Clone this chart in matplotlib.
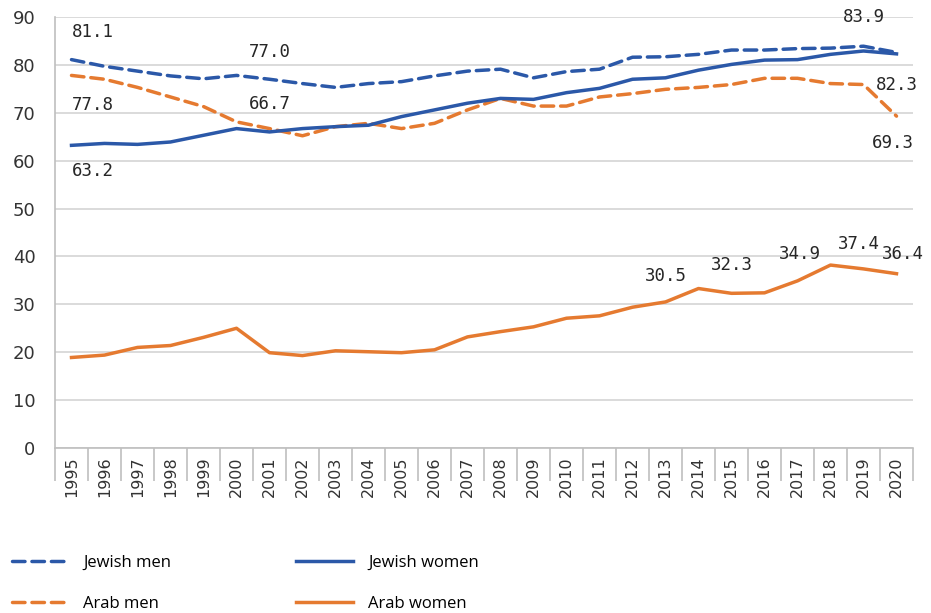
import numpy as np
import matplotlib
matplotlib.use("Agg")
import matplotlib.pyplot as plt

plt.rcParams['lines.scale_dashes'] = False

years = list(range(1995, 2021))
jewish_men = [81.1, 79.7, 78.7, 77.7, 77.1, 77.8, 77.0, 76.1, 75.3, 76.1, 76.5, 77.7, 78.7,
              79.1, 77.3, 78.6, 79.1, 81.6, 81.7, 82.2, 83.1, 83.1, 83.4, 83.5, 83.9, 82.6]
jewish_women = [63.2, 63.6, 63.4, 63.9, 65.3, 66.7, 66.0, 66.7, 67.1, 67.4, 69.2, 70.6, 72.0,
                73.0, 72.8, 74.2, 75.1, 77.0, 77.3, 78.9, 80.1, 81.0, 81.1, 82.2, 82.9, 82.3]
arab_men = [77.8, 77.0, 75.3, 73.3, 71.3, 68.1, 66.7, 65.2, 67.1, 67.8, 66.7, 67.8, 70.6,
            73.0, 71.4, 71.4, 73.3, 74.0, 74.9, 75.3, 75.9, 77.2, 77.2, 76.1, 75.9, 69.3]
arab_women = [18.9, 19.4, 21.0, 21.4, 23.1, 25.0, 19.9, 19.3, 20.3, 20.1, 19.9, 20.5, 23.2,
              24.3, 25.3, 27.1, 27.6, 29.4, 30.5, 33.3, 32.3, 32.4, 34.9, 38.2, 37.4, 36.4]

# which points get a value label: (series, year, offset in pixels)
labelled = [
    ("jm", 1995, (21, 28)), ("am", 1995, (21, -30)), ("jw", 1995, (21, -26)),
    ("jm", 2001, (0, 27)), ("am", 2001, (0, 25)),
    ("jm", 2019, (0, 29)), ("jw", 2020, (0, -31)), ("am", 2020, (-4, -27)),
    ("aw", 2013, (0, 26)), ("aw", 2015, (0, 28)), ("aw", 2017, (2, 27)),
    ("aw", 2019, (-5, 25)), ("aw", 2020, (6, 20)),
]

blue = '#2B58A8'
orange = '#E57A30'

fig = plt.figure(figsize=(9.31, 6.13), dpi=100)
ax = fig.add_axes([55/931, 1-448/613, (913-55)/931, (448-17)/613])

x = np.arange(len(years))
series = {
    "jm": ax.plot(x, jewish_men, color=blue, lw=2.5, dashes=(9, 5), dash_capstyle='round', label='Jewish men')[0],
    "am": ax.plot(x, arab_men, color=orange, lw=2.5, dashes=(9, 5), dash_capstyle='round', label='Arab men')[0],
    "jw": ax.plot(x, jewish_women, color=blue, lw=2.5, label='Jewish women')[0],
    "aw": ax.plot(x, arab_women, color=orange, lw=2.5, label='Arab women')[0],
}
data = {"jm": jewish_men, "am": arab_men, "jw": jewish_women, "aw": arab_women}

for key, yr, off in labelled:
    i = years.index(yr)
    v = data[key][i]
    ax.annotate("%.1f" % v, (i, v), xytext=off, textcoords='offset pixels',
                ha='center', va='center', fontsize=12.5, family='DejaVu Sans Mono',
                color='#262626')

ax.set_ylim(0, 90)
ax.set_xlim(-0.5, len(years) - 0.5)
ax.set_yticks(range(0, 91, 10))
ax.yaxis.grid(True, color='#D4D4D4', lw=1.2)
ax.set_axisbelow(True)
ax.tick_params(axis='y', length=0, labelsize=13, colors='#333333', pad=14)

ax.set_xticks(x)
ax.set_xticklabels([str(y) for y in years], rotation=90, fontsize=11.5, color='#333333')
ax.set_xticks(np.arange(-0.5, len(years)), minor=True)
ax.tick_params(axis='x', which='major', length=0, pad=6)
ax.tick_params(axis='x', which='minor', length=24, color='#BFBFBF', width=1.2)

for s in ['top', 'right']:
    ax.spines[s].set_visible(False)
ax.spines['left'].set_color('#BFBFBF')
ax.spines['bottom'].set_color('#BFBFBF')
ax.spines['left'].set_linewidth(1.2)
ax.spines['bottom'].set_linewidth(1.2)

handles = [series["jm"], series["am"], series["jw"], series["aw"]]
fig.legend(handles=handles, loc='upper left', bbox_to_anchor=(0.0, 1 - 543/613),
           ncol=2, frameon=False, prop={'family': 'Open Sans', 'size': 12},
           handlelength=3.4, handletextpad=0.9, columnspacing=7.5, labelspacing=1.5,
           borderpad=0.2)

fig.savefig("out.png", dpi=100)
